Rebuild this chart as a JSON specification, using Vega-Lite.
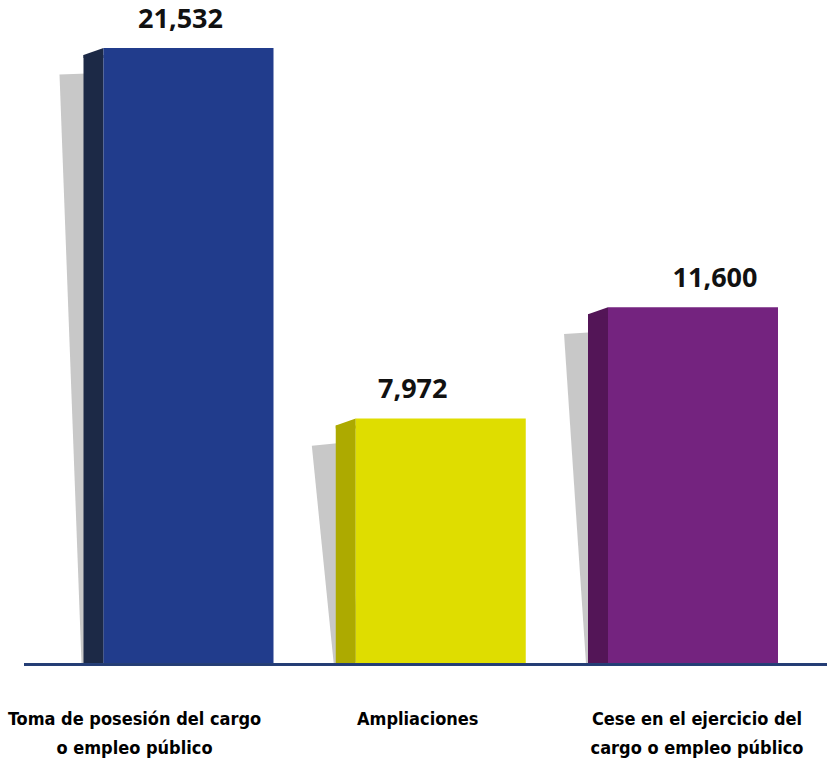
{
  "$schema": "https://vega.github.io/schema/vega-lite/v6.json",
  "width": 827,
  "height": 615,
  "autosize": {"type": "none"},
  "padding": {"left": 0, "top": 48, "right": 0, "bottom": 96},
  "background": "white",
  "view": {"stroke": null},
  "data": {
    "values": [
      {"cat": "Toma de posesión del cargo o empleo público", "value": 21532},
      {"cat": "Ampliaciones", "value": 7972},
      {"cat": "Cese en el ejercicio del cargo o empleo público", "value": 11600}
    ]
  },
  "encoding": {
    "x": {
      "field": "cat",
      "type": "nominal",
      "sort": null,
      "scale": {"type": "band", "paddingInner": 0, "paddingOuter": 0.13925, "align": 0.8879},
      "axis": {
        "title": null,
        "domain": false,
        "ticks": false,
        "tickSize": 0,
        "labelAngle": 0,
        "labelPadding": 61,
        "labelBaseline": "alphabetic",
        "labelFont": "DejaVu Sans Condensed, sans-serif",
        "labelFontWeight": "bold",
        "labelFontSize": 18,
        "labelColor": "#000000",
        "labelLineHeight": 29,
        "labelLimit": 0,
        "labelOffset": {"expr": "datum.value == 'Ampliaciones' ? -23 : (datum.value == 'Cese en el ejercicio del cargo o empleo público' ? 4 : -54)"},
        "labelExpr": "datum.value == 'Ampliaciones' ? 'Ampliaciones' : (datum.value == 'Toma de posesión del cargo o empleo público' ? ['Toma de posesión del cargo', 'o empleo público'] : ['Cese en el ejercicio del', 'cargo o empleo público'])"
      }
    },
    "y": {
      "field": "value",
      "type": "quantitative",
      "scale": {"type": "linear", "domain": [0, 20050], "nice": false, "zero": true, "clamp": true},
      "axis": null
    }
  },
  "layer": [
    {
      "mark": {"type": "rule", "color": "#C8C8C8", "strokeWidth": 28, "strokeCap": "butt", "xOffset": -115, "x2Offset": -93, "yOffset": 26, "y2Offset": 0},
      "encoding": {
        "x2": {"field": "cat"},
        "y2": {"datum": 0}
      }
    },
    {
      "mark": {"type": "bar", "width": 20, "xOffset": -95, "yOffset": 7, "y2Offset": 0},
      "encoding": {
        "y2": {"datum": 0},
        "color": {"field": "cat", "type": "nominal", "legend": null, "scale": {"domain": ["Toma de posesión del cargo o empleo público", "Ampliaciones", "Cese en el ejercicio del cargo o empleo público"], "range": ["#1C2946", "#ADAA00", "#531557"]}}
      }
    },
    {
      "mark": {"type": "point", "filled": true, "opacity": 1, "strokeWidth": 0, "size": 400, "xOffset": -95, "shape": "M -1 0.7 L 1 0 L 1 1 L -1 1 Z"},
      "encoding": {
        "color": {"field": "cat", "type": "nominal", "legend": null, "scale": {"domain": ["Toma de posesión del cargo o empleo público", "Ampliaciones", "Cese en el ejercicio del cargo o empleo público"], "range": ["#1C2946", "#ADAA00", "#531557"]}}
      }
    },
    {
      "mark": {"type": "bar", "width": 170},
      "encoding": {
        "color": {"field": "cat", "type": "nominal", "legend": null, "scale": {"domain": ["Toma de posesión del cargo o empleo público", "Ampliaciones", "Cese en el ejercicio del cargo o empleo público"], "range": ["#213C8C", "#DFDD00", "#74237F"]}}
      }
    },
    {
      "mark": {"type": "rule", "color": "#233C74", "strokeWidth": 2.5, "xOffset": 24, "yOffset": 1.5},
      "encoding": {
        "x": {"value": 0},
        "x2": {"value": 827},
        "y": {"datum": 0}
      }
    },
    {
      "mark": {"type": "text", "font": "Open Sans", "fontWeight": "bold", "fontSize": 27, "color": "#111111", "baseline": "alphabetic", "align": "center", "dy": -20,
        "dx": {"expr": "datum.cat == 'Ampliaciones' ? -28 : (datum.cat == 'Cese en el ejercicio del cargo o empleo público' ? 22 : -8)"}},
      "encoding": {
        "text": {"field": "value", "type": "quantitative", "format": ",d"}
      }
    }
  ],
  "resolve": {"scale": {"color": "independent"}}
}
